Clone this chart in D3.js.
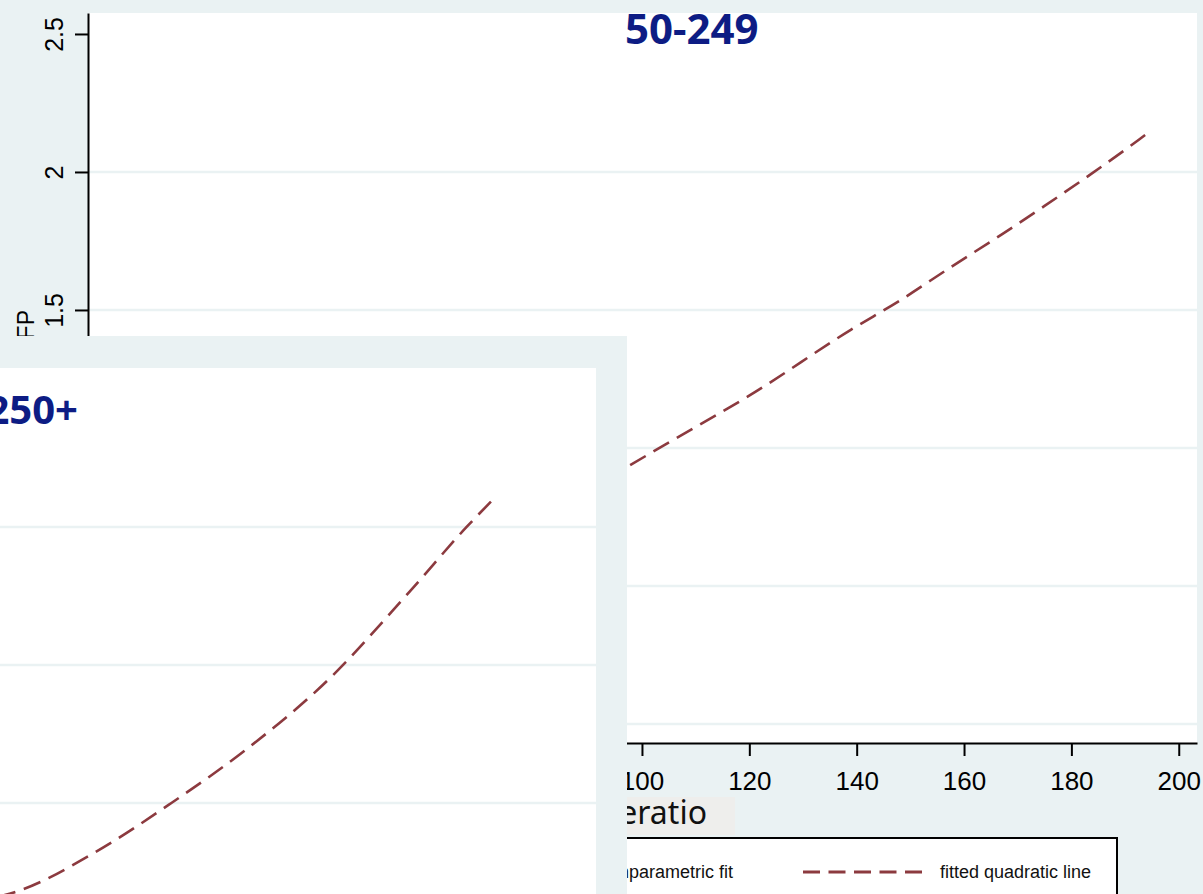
<!DOCTYPE html>
<html>
<head>
<meta charset="utf-8">
<script src="https://cdn.jsdelivr.net/npm/d3@7"></script>
<style>
body { margin: 0; background: #eaf2f3; overflow: hidden; }
svg { display: block; }
</style>
</head>
<body>
<script>
// back panel (50-249), fitted quadratic line
const midX = [97.8, 105.2, 120.2, 138.9, 148.2, 157.6, 166.9, 175.0, 183.7, 192.5, 194.0]
const midY = [0.938, 1.022, 1.192, 1.428, 1.536, 1.656, 1.772, 1.877, 1.993, 2.116, 2.138]

// front panel (250+)
const bigX = [92.0, 95.3, 109.9, 124.3, 138.1, 153.5, 168.6, 179.3, 184.7]
const bigY = [0.660, 0.678, 0.819, 1.000, 1.192, 1.446, 1.764, 2.000, 2.109]

const xTicks = [0, 20, 40, 60, 80, 100, 120, 140, 160, 180, 200]
const yTicks = [0, 0.5, 1, 1.5, 2, 2.5]
const gridTicks = [0, 0.5, 1, 1.5, 2]
const panelTitles = ["50-249", "250+"]
const legendLabels = ["nonparametric fit", "fitted quadratic line"]
const xTitle = "eratio"
const yTitle = "TFP"

const w = 1203
const h = 894
const bg = "#eaf2f3"
const lineColor = "#8c3a3f"
const titleColor = "#0d1c84"

// both panels share the same plot box, the front one is just shifted
const plotW = 1109
const plotH = 730

const x = d3.scaleLinear().domain([-3.2, 203.4]).range([0, plotW])
const y = d3.scaleLinear().domain([-0.069, 2.576]).range([plotH, 0])

let svg = d3.select("body")
            .append("svg")
            .attr("width", w)
            .attr("height", h)

svg.append("rect")
    .attr("width", w)
    .attr("height", h)
    .attr("fill", bg)

function drawPanel(ox, oy, xs, ys, title, tx, ty, anchor, tsize, front) {
    let g = svg.append("g").attr("transform", "translate(" + ox + "," + oy + ")")

    if(front) {
        g.append("rect")
            .attr("x", -300)
            .attr("y", -32)
            .attr("width", plotW + 331)
            .attr("height", plotH + 300)
            .attr("fill", bg)
    }

    g.append("rect")
        .attr("width", plotW)
        .attr("height", plotH)
        .attr("fill", "#fff")

    //grid
    g.selectAll(".grid")
        .data(gridTicks)
        .enter()
        .append("line")
        .attr("x1", 0)
        .attr("x2", plotW)
        .attr("y1", function(d) {return y(d)})
        .attr("y2", function(d) {return y(d)})
        .attr("stroke", bg)
        .attr("stroke-width", 2.5)

    // front panel axes fall outside the window, so only the back one gets them
    if(!front) {
        //y axis, labels turned on their side like stata does
        let ya = g.append("g")
                  .call(d3.axisLeft(y).tickValues(yTicks).tickSize(13).tickSizeOuter(0).tickFormat(d3.format("")))
        ya.select(".domain").attr("stroke-width", 2)
        ya.selectAll("line").attr("stroke-width", 2)
        ya.selectAll("text")
            .attr("x", 0)
            .attr("dy", 0)
            .attr("text-anchor", "middle")
            .attr("transform", "translate(-25,0) rotate(-90)")
            .attr("font-family", "Liberation Sans, Arial, sans-serif")
            .attr("font-size", 25)
            .attr("fill", "#000")

        //x axis
        let xa = g.append("g")
                  .attr("transform", "translate(0," + plotH + ")")
                  .call(d3.axisBottom(x).tickValues(xTicks).tickSize(13).tickSizeOuter(0))
        xa.select(".domain").attr("stroke-width", 2)
        xa.selectAll("line").attr("stroke-width", 2)
        xa.selectAll("text")
            .attr("y", 47)
            .attr("dy", 0)
            .attr("font-family", "Liberation Sans, Arial, sans-serif")
            .attr("font-size", 26)
            .attr("fill", "#000")
    }

    let line = d3.line()
                 .x(function(d) {return x(d[0])})
                 .y(function(d) {return y(d[1])})
                 .curve(d3.curveMonotoneX)

    g.append("path")
        .datum(d3.zip(xs, ys))
        .attr("d", line)
        .attr("fill", "none")
        .attr("stroke", lineColor)
        .attr("stroke-width", 2.6)
        .attr("stroke-dasharray", "18,9")

    g.append("text")
        .text(title)
        .attr("x", tx)
        .attr("y", ty)
        .attr("text-anchor", anchor)
        .attr("font-family", "Noto Sans, sans-serif")
        .attr("font-weight", 700)
        .attr("font-size", tsize)
        .attr("fill", titleColor)

    return g
}

// back panel
drawPanel(88, 13, midX, midY, panelTitles[0], 537, 31, "start", 42, false)

// y title of back panel, mostly hidden
svg.append("text")
    .text(yTitle)
    .attr("text-anchor", "end")
    .attr("transform", "translate(34,310) rotate(-90)")
    .attr("font-family", "Liberation Sans, Arial, sans-serif")
    .attr("font-size", 23)
    .attr("fill", "#000")

// x title sits in a grey box
svg.append("rect")
    .attr("x", 560)
    .attr("y", 797)
    .attr("width", 175)
    .attr("height", 38)
    .attr("fill", "#eeeeec")
svg.append("text")
    .text(xTitle)
    .attr("x", 707)
    .attr("y", 824)
    .attr("text-anchor", "end")
    .attr("font-family", "Noto Sans, sans-serif")
    .attr("font-size", 32)
    .attr("fill", "#111")

// legend
svg.append("rect")
    .attr("x", 480)
    .attr("y", 838)
    .attr("width", 637)
    .attr("height", 120)
    .attr("fill", "#fff")
    .attr("stroke", "#000")
    .attr("stroke-width", 2)
svg.append("text")
    .text(legendLabels[0])
    .attr("x", 733)
    .attr("y", 878)
    .attr("text-anchor", "end")
    .attr("font-family", "Liberation Sans, Arial, sans-serif")
    .attr("font-size", 18)
    .attr("fill", "#111")
svg.append("line")
    .attr("x1", 803)
    .attr("x2", 922)
    .attr("y1", 872)
    .attr("y2", 872)
    .attr("stroke", lineColor)
    .attr("stroke-width", 3)
    .attr("stroke-dasharray", "17,8.5")
svg.append("text")
    .text(legendLabels[1])
    .attr("x", 940)
    .attr("y", 878)
    .attr("font-family", "Liberation Sans, Arial, sans-serif")
    .attr("font-size", 18)
    .attr("fill", "#111")

// front panel, pasted over the lower left
drawPanel(-513, 368, bigX, bigY, panelTitles[1], 591, 56, "end", 40, true)
</script>
</body>
</html>
